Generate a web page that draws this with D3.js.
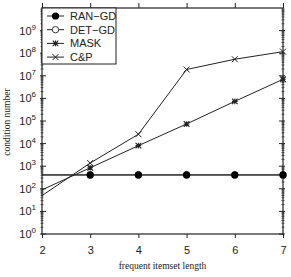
<!DOCTYPE html>
<html lang="en">
<head>
  <meta charset="UTF-8">
  <title>condition number</title>
  <script src="https://cdn.jsdelivr.net/npm/d3@7"></script>
</head>
<body>
<style>
  * { padding: 0; margin: 0; }
  body { background: #fff; }
  #app { width: 291px; height: 277px; }
  #app svg { display: block; }
</style>

<div id="app"></div>

<script>
  // itemset lengths on the x axis
  var lengths = [2, 3, 4, 5, 6, 7];
  // condition numbers per method
  var ranGD = [410, 410, 410, 410, 410, 410];
  var detGD = [410, 410, 410, 410, 410, 410];
  var mask = [90, 850, 8100, 74000, 740000, 7000000];
  var cp = [50, 1380, 26000, 19000000, 54000000, 117000000];
  var seriesNames = ['RAN\u2212GD', 'DET\u2212GD', 'MASK', 'C&P'];
  var xTicks = [2, 3, 4, 5, 6, 7];
  var yExponents = [0, 1, 2, 3, 4, 5, 6, 7, 8, 9];

  function draw() {
    var W = 291, H = 277,
      left = 42, right = 283, top = 8, bottom = 234;

    var svg = d3.select('#app').append('svg')
      .attr('width', W).attr('height', H)
      .attr('viewBox', '0,0 ' + W + ',' + H);

    var x = d3.scaleLinear().domain([2, 7]).range([left, right]);
    var y = d3.scaleLog().domain([1, 1e10]).range([bottom, top]);

    var ink = '#222';

    // frame
    svg.append('rect')
      .attr('x', left).attr('y', top)
      .attr('width', right - left).attr('height', bottom - top)
      .attr('fill', 'none').attr('stroke', ink).attr('stroke-width', 1.2);

    // x axes (ticks outward, top and bottom)
    svg.append('g').attr('transform', 'translate(0,' + bottom + ')')
      .call(d3.axisBottom(x).tickValues(xTicks).tickSize(4).tickPadding(8).tickFormat(d3.format('d')))
      .call(g => g.select('.domain').remove())
      .call(g => g.selectAll('text').attr('font-family', 'Liberation Sans, Arial, sans-serif').attr('font-size', 11).attr('fill', ink))
      .call(g => g.selectAll('line').attr('stroke', ink));
    svg.append('g').attr('transform', 'translate(0,' + top + ')')
      .call(d3.axisTop(x).tickValues(xTicks).tickSize(5).tickFormat(''))
      .call(g => g.select('.domain').remove())
      .call(g => g.selectAll('line').attr('stroke', ink));

    // y minor ticks (log, 2..9 per decade)
    var minor = [];
    yExponents.forEach(function (e) {
      for (var k = 2; k <= 9; k++) minor.push(k * Math.pow(10, e));
    });
    var majors = yExponents.map(e => Math.pow(10, e));

    [left, right].forEach(function (ax) {
      var dir = ax === left ? 1 : -1;
      svg.append('g').selectAll('line.minor').data(minor).join('line')
        .attr('x1', ax - 1.5).attr('x2', ax + 1.5)
        .attr('y1', d => y(d)).attr('y2', d => y(d))
        .attr('stroke', ink).attr('stroke-width', 0.7);
      svg.append('g').selectAll('line.major').data(majors).join('line')
        .attr('x1', ax - 2 * dir).attr('x2', ax + 4 * dir)
        .attr('y1', d => y(d)).attr('y2', d => y(d))
        .attr('stroke', ink).attr('stroke-width', 1);
    });

    // y tick labels 10^n
    var yl = svg.append('g').selectAll('text').data(yExponents).join('text')
      .attr('x', left - 6).attr('y', d => y(Math.pow(10, d)) + 4)
      .attr('text-anchor', 'end')
      .attr('font-family', 'Liberation Sans, Arial, sans-serif')
      .attr('font-size', 11).attr('fill', ink);
    yl.append('tspan').text('10');
    yl.append('tspan').attr('dy', -5).attr('font-size', 8).text(d => d);

    // axis titles
    svg.append('text')
      .attr('x', (left + right) / 2).attr('y', 269)
      .attr('text-anchor', 'middle')
      .attr('font-family', 'Liberation Serif, Times New Roman, serif')
      .attr('font-size', 9.5).attr('fill', ink)
      .text('frequent itemset length');
    svg.append('text')
      .attr('transform', 'translate(10,' + ((top + bottom) / 2 + 1) + ') rotate(-90)')
      .attr('text-anchor', 'middle')
      .attr('font-family', 'Liberation Serif, Times New Roman, serif')
      .attr('font-size', 9.5).attr('fill', ink)
      .text('condition number');

    var line = d3.line().x(d => x(d[0])).y(d => y(d[1]));
    var series = [
      { name: seriesNames[1], values: detGD, mark: 'open' },
      { name: seriesNames[0], values: ranGD, mark: 'filled' },
      { name: seriesNames[2], values: mask, mark: 'star' },
      { name: seriesNames[3], values: cp, mark: 'cross' }
    ];

    function marker(g, kind, cx, cy) {
      if (kind === 'filled') {
        g.append('circle').attr('cx', cx).attr('cy', cy).attr('r', 3.6).attr('fill', '#000');
      } else if (kind === 'open') {
        g.append('circle').attr('cx', cx).attr('cy', cy).attr('r', 3.2)
          .attr('fill', '#fff').attr('stroke', ink).attr('stroke-width', 0.9);
      } else if (kind === 'star') {
        var s = 2.8;
        g.append('path')
          .attr('d', 'M' + (cx - s) + ',' + cy + 'H' + (cx + s) + 'M' + cx + ',' + (cy - s) + 'V' + (cy + s) +
            'M' + (cx - s) + ',' + (cy - s) + 'L' + (cx + s) + ',' + (cy + s) +
            'M' + (cx - s) + ',' + (cy + s) + 'L' + (cx + s) + ',' + (cy - s))
          .attr('stroke', ink).attr('stroke-width', 1.1);
      } else {
        var c = 3;
        g.append('path')
          .attr('d', 'M' + (cx - c) + ',' + (cy - c) + 'L' + (cx + c) + ',' + (cy + c) +
            'M' + (cx - c) + ',' + (cy + c) + 'L' + (cx + c) + ',' + (cy - c))
          .attr('stroke', ink).attr('stroke-width', 1);
      }
    }

    var plot = svg.append('g');
    series.forEach(function (s) {
      var pts = lengths.map((l, i) => [l, s.values[i]]);
      plot.append('path')
        .attr('d', line(pts))
        .attr('fill', 'none').attr('stroke', ink).attr('stroke-width', 1);
      // no marker sits on the left border in the reference
      pts.filter(p => p[0] !== lengths[0]).forEach(function (p) {
        marker(plot, s.mark, x(p[0]), y(p[1]));
      });
    });

    // legend
    var lg = svg.append('g');
    lg.append('rect')
      .attr('x', left).attr('y', top).attr('width', 74).attr('height', 56)
      .attr('fill', '#fff').attr('stroke', ink).attr('stroke-width', 1);
    var legendMarks = ['filled', 'open', 'star', 'cross'];
    seriesNames.forEach(function (n, i) {
      var ly = 16 + i * 13.7;
      lg.append('line').attr('x1', 47).attr('x2', 64).attr('y1', ly).attr('y2', ly)
        .attr('stroke', ink).attr('stroke-width', 1);
      marker(lg, legendMarks[i], 55.5, ly);
      lg.append('text').attr('x', 70).attr('y', ly + 4)
        .attr('font-family', 'Liberation Sans, Arial, sans-serif')
        .attr('font-size', 11).attr('fill', ink).text(n);
    });
  }

  draw();
</script>
</body>
</html>
